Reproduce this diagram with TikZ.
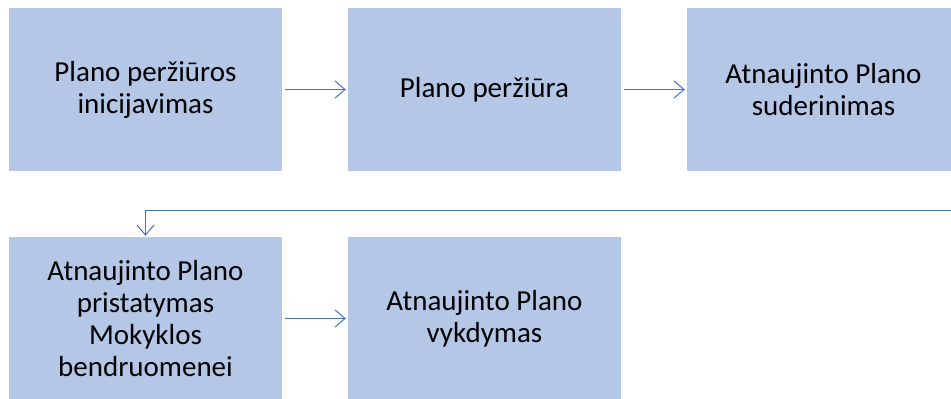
\documentclass[tikz,border=0pt]{standalone}
\usepackage{fontspec}
\setmainfont{Carlito}
\usetikzlibrary{arrows.meta}
\definecolor{boxfill}{HTML}{B4C7E7}
\definecolor{linecol}{HTML}{4472C4}
\tikzset{
  stepbox/.style={rectangle, fill=boxfill, draw=none, minimum width=273pt, minimum height=163pt,
    align=center, font=\fontsize{29pt}{32pt}\selectfont, text=black, inner sep=0pt},
  conn/.style={draw=linecol, line width=1pt, -{Straight Barb[length=10pt,width=17pt,line width=1pt]}}
}
\begin{document}
\begin{tikzpicture}[x=1pt,y=-1pt]
\useasboundingbox (0,0) rectangle (951,399);
\node[stepbox] (b1) at (145.5,89.5) {Plano peržiūros\\inicijavimas};
\node[stepbox] (b2) at (484.5,89.5) {Plano peržiūra};
\node[stepbox] (b3) at (823.5,89.5) {Atnaujinto Plano\\suderinimas};
\node[stepbox] (b4) at (145.5,318.5) {Atnaujinto Plano\\pristatymas\\Mokyklos\\bendruomenei};
\node[stepbox] (b5) at (484.5,318.5) {Atnaujinto Plano\\vykdymas};
\coordinate (r) at (960,210);
\draw[conn, shorten <=3pt, shorten >=2pt] (b1.east) -- (b2.west);
\draw[conn, shorten <=3pt, shorten >=2pt] (b2.east) -- (b3.west);
\draw[conn, shorten <=3pt, shorten >=2pt] (b4.east) -- (b5.west);
\draw[conn, shorten >=1pt] (r) -| (b4.north);
\end{tikzpicture}
\end{document}
